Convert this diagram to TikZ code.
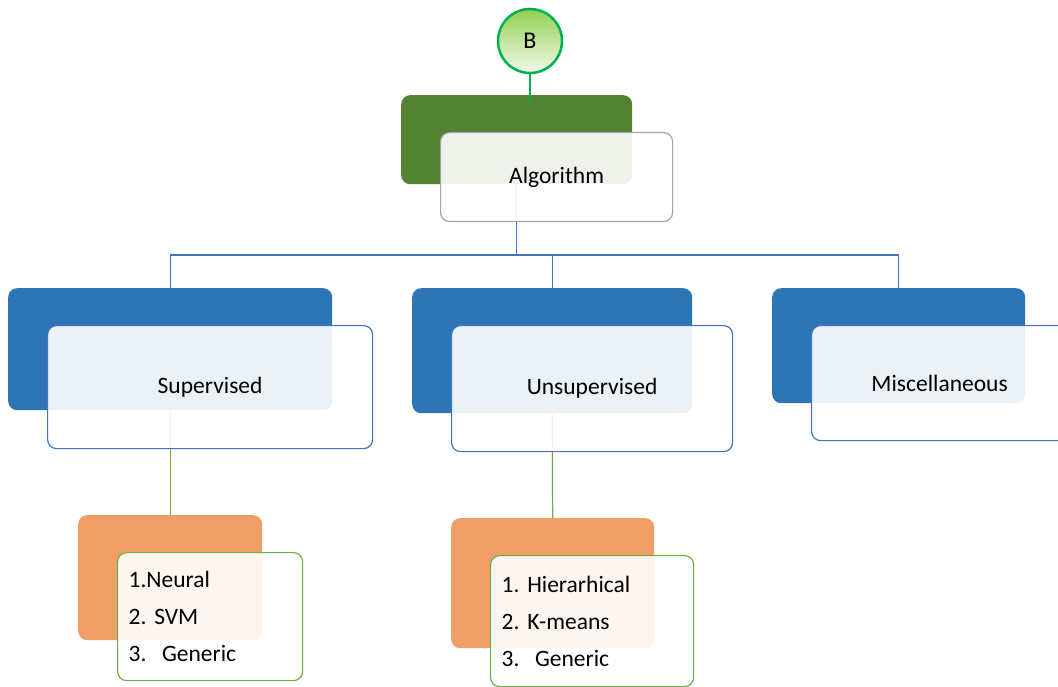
\documentclass[tikz,border=0pt]{standalone}
\usepackage{fontspec}
\setmainfont{Carlito}
\frenchspacing
\definecolor{algdark}{HTML}{548235}
\definecolor{algedge}{HTML}{A5A5A5}
\definecolor{lvlblue}{HTML}{2E75B6}
\definecolor{lvledge}{HTML}{4472C4}
\definecolor{listorange}{HTML}{EF9F66}
\definecolor{listedge}{HTML}{70AD47}
\definecolor{rootedge}{HTML}{00B050}
\definecolor{roottop}{HTML}{92D050}
\definecolor{rootbottom}{HTML}{F2F9EC}
\begin{document}
\begin{tikzpicture}[x=1pt,y=-1pt,
  backbox/.style={rectangle, rounded corners=9pt, anchor=north west, inner sep=0pt},
  frontbox/.style={rectangle, rounded corners=9pt, anchor=north west, line width=1.2pt,
    fill=white, fill opacity=0.9, text opacity=1,
    font=\fontsize{23.5}{28}\selectfont},
  listbox/.style={frontbox, draw=listedge, align=left, inner sep=11pt,
    font=\fontsize{23.5}{37}\selectfont},
  blueline/.style={draw=lvledge, line width=1.2pt},
  greenline/.style={draw=listedge, line width=1.2pt}]
\useasboundingbox (0,0) rectangle (1058,687);

% back plates
\node[backbox, fill=algdark, minimum width=231pt, minimum height=89pt] (algback) at (401,95) {};
\node[backbox, fill=lvlblue, minimum width=324pt, minimum height=122pt] (supback) at (8,288) {};
\node[backbox, fill=lvlblue, minimum width=280pt, minimum height=125pt] (unsback) at (412,288) {};
\node[backbox, fill=lvlblue, minimum width=253pt, minimum height=115pt] (miscback) at (772,288) {};
\node[backbox, fill=listorange, minimum width=184pt, minimum height=125pt] (suplback) at (78,515) {};
\node[backbox, fill=listorange, minimum width=203pt, minimum height=130pt] (unslback) at (451,518) {};

% root circle and its link
\node[circle, minimum size=64pt, inner sep=0pt, draw=rootedge, line width=2.5pt,
      top color=roottop, bottom color=rootbottom, font=\fontsize{24}{28}\selectfont] (B) at (530,41) {B};
\coordinate (Bend) at (530,102);
\draw[draw=rootedge, line width=2.5pt] (B.south) -- (Bend);

% tree connectors
\coordinate (bus) at (517,255);
\draw[blueline] (algback.south) -- (algback.south |- bus) -| (supback.north);
\draw[blueline] (algback.south |- bus) -| (unsback.north);
\draw[blueline] (algback.south |- bus) -| (miscback.north);
\draw[greenline] (supback.south) -- (suplback.north);
\draw[greenline] (unsback.south) -- (unslback.north);

% front boxes
\node[frontbox, draw=algedge, minimum width=232pt, minimum height=89pt] (alg) at (440,132) {Algorithm};
\node[frontbox, draw=lvledge, minimum width=325pt, minimum height=123pt] (sup) at (47,325) {Supervised};
\node[frontbox, draw=lvledge, minimum width=281pt, minimum height=126pt] (uns) at (451,325) {Unsupervised};
\node[frontbox, draw=lvledge, minimum width=256pt, minimum height=115pt] (misc) at (811,325) {Miscellaneous};
\node[listbox, minimum width=185pt, minimum height=128pt, text width=163pt] (supl) at (117,552)
  {1.Neural\\2. SVM\\3.\ \ Generic};
\node[listbox, minimum width=203pt, minimum height=131pt, text width=181pt] (unsl) at (490,555)
  {1. Hierarhical\\2. K-means\\3.\ \ Generic};
\end{tikzpicture}
\end{document}
